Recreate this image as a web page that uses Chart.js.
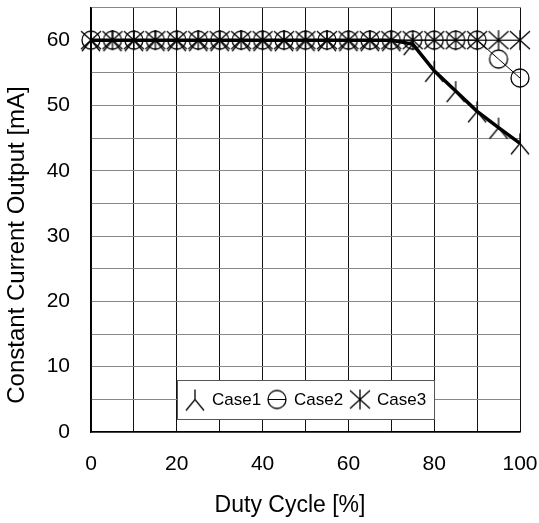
<!DOCTYPE html>
<html>
<head>
<meta charset="utf-8">
<script src="https://cdn.jsdelivr.net/npm/chart.js@4.4.1/dist/chart.umd.min.js"></script>
<style>
  html, body { margin: 0; padding: 0; background: #fff; }
  #wrap { width: 539px; height: 523px; }
</style>
</head>
<body>
<div id="wrap"><canvas id="grafico"></canvas></div>
<script>
'use strict';

// ─── Datos ────────────────────────────────────────────────────────────────────
const DUTY  = [0, 5, 10, 15, 20, 25, 30, 35, 40, 45, 50, 55, 60, 65, 70, 75, 80, 85, 90, 95, 100];
const CASE1 = [60, 60, 60, 60, 60, 60, 60, 60, 60, 60, 60, 60, 60, 60, 60, 59.4, 55.3, 52.2, 49.1, 46.6, 44.2];
const CASE2 = [60, 60, 60, 60, 60, 60, 60, 60, 60, 60, 60, 60, 60, 60, 60, 60, 60, 60, 60, 57.1, 54.2];
const CASE3 = [60, 60, 60, 60, 60, 60, 60, 60, 60, 60, 60, 60, 60, 60, 60, 60, 60, 60, 60, 60, 60];
const X_TICKS = [0, 20, 40, 60, 80, 100];
const Y_TICKS = [0, 10, 20, 30, 40, 50, 60];
const NOMBRES = ['Case1', 'Case2', 'Case3'];
const TITULO_X = 'Duty Cycle [%]';
const TITULO_Y = 'Constant Current Output [mA]';

const FUENTE = '"Liberation Sans", Arial, sans-serif';

// ─── Marcadores ───────────────────────────────────────────────────────────────
function lienzo(dibujar) {
    const c = document.createElement('canvas');
    c.width = 26; c.height = 26;
    const g = c.getContext('2d');
    g.strokeStyle = '#000';
    g.lineWidth = 1.3;
    g.beginPath();
    dibujar(g, 13, 13);
    g.stroke();
    return c;
}

// "人"
const marcaCase1 = lienzo(function (g, cx, cy) {
    g.moveTo(cx, cy - 10); g.lineTo(cx, cy);
    g.moveTo(cx - 9, cy + 11); g.lineTo(cx, cy); g.lineTo(cx + 9, cy + 11);
});
// círculo
const marcaCase2 = lienzo(function (g, cx, cy) {
    g.arc(cx, cy, 9, 0, Math.PI * 2);
});
// asterisco
const marcaCase3 = lienzo(function (g, cx, cy) {
    g.moveTo(cx, cy - 10); g.lineTo(cx, cy + 10);
    g.moveTo(cx - 10, cy - 9); g.lineTo(cx + 10, cy + 9);
    g.moveTo(cx + 10, cy - 9); g.lineTo(cx - 10, cy + 9);
});

function puntos(xs, ys) {
    return xs.map(function (x, i) { return { x: x, y: ys[i] }; });
}

// ─── Títulos de ejes y leyenda interna ───────────────────────────────────────
const extras = {
    id: 'extras',
    afterDraw: function (chart) {
        const ctx = chart.ctx;
        ctx.save();

        // títulos
        ctx.fillStyle = '#000';
        ctx.textAlign = 'center';
        ctx.textBaseline = 'middle';
        ctx.font = '23px ' + FUENTE;
        ctx.fillText(TITULO_X, 290, 506);
        ctx.save();
        ctx.translate(17, 245);
        ctx.rotate(-Math.PI / 2);
        ctx.font = '24px ' + FUENTE;
        ctx.fillText(TITULO_Y, 0, 0);
        ctx.restore();

        // leyenda
        const x0 = 177, y0 = 380, w = 257, h = 39;
        ctx.fillStyle = '#fff';
        ctx.fillRect(x0, y0, w, h);
        ctx.strokeStyle = '#555';
        ctx.lineWidth = 1;
        ctx.strokeRect(x0 + 0.5, y0 + 0.5, w, h);

        const cy = y0 + h / 2;
        ctx.drawImage(marcaCase1, 195 - 13, cy - 13);
        ctx.drawImage(marcaCase2, 277 - 13, cy - 13);
        ctx.beginPath();
        ctx.moveTo(268, cy); ctx.lineTo(286, cy);
        ctx.strokeStyle = '#000';
        ctx.stroke();
        ctx.drawImage(marcaCase3, 360 - 13, cy - 13);

        ctx.fillStyle = '#000';
        ctx.textAlign = 'left';
        ctx.font = '17px ' + FUENTE;
        ctx.fillText(NOMBRES[0], 212, cy + 1);
        ctx.fillText(NOMBRES[1], 294, cy + 1);
        ctx.fillText(NOMBRES[2], 377, cy + 1);
        ctx.restore();
    }
};

// ─── Gráfico ──────────────────────────────────────────────────────────────────
new Chart(document.getElementById('grafico'), {
    type: 'line',
    data: {
        datasets: [
            {
                label: NOMBRES[0],
                data: puntos(DUTY, CASE1),
                borderColor: '#000',
                borderWidth: 3.5,
                pointStyle: marcaCase1,
                clip: false,
            },
            {
                label: NOMBRES[1],
                data: puntos(DUTY, CASE2),
                borderColor: '#000',
                borderWidth: 1,
                pointStyle: marcaCase2,
                clip: false,
            },
            {
                label: NOMBRES[2],
                data: puntos(DUTY, CASE3),
                borderColor: '#000',
                borderWidth: 1,
                pointStyle: marcaCase3,
                clip: false,
            },
        ],
    },
    options: {
        responsive: true,
        maintainAspectRatio: false,
        animation: false,
        layout: { padding: { left: 0, right: 19, top: 5, bottom: 0 } },
        plugins: {
            legend: { display: false },
            tooltip: { enabled: false },
        },
        scales: {
            x: {
                type: 'linear',
                min: 0,
                max: 100,
                afterFit: function (scale) {
                    scale.height = 91;
                    scale.paddingLeft = 0;
                    scale.paddingRight = 0;
                },
                ticks: {
                    stepSize: 10,
                    padding: 20,
                    color: '#000',
                    font: { family: FUENTE, size: 21 },
                    maxRotation: 0,
                    callback: function (val) {
                        return X_TICKS.indexOf(val) >= 0 ? String(val) : '';
                    },
                },
                grid: { color: '#111', drawTicks: false },
                border: { color: '#000', width: 1.5 },
            },
            y: {
                min: 0,
                max: 65,
                afterFit: function (scale) {
                    scale.width = 91;
                    scale.paddingTop = 0;
                    scale.paddingBottom = 0;
                },
                ticks: {
                    stepSize: 5,
                    padding: 21,
                    color: '#000',
                    font: { family: FUENTE, size: 21 },
                    callback: function (val) {
                        return Y_TICKS.indexOf(val) >= 0 ? String(val) : '';
                    },
                },
                grid: { color: '#888', drawTicks: false },
                border: { color: '#000', width: 1.5 },
            },
        },
    },
    plugins: [extras],
});
</script>
</body>
</html>
